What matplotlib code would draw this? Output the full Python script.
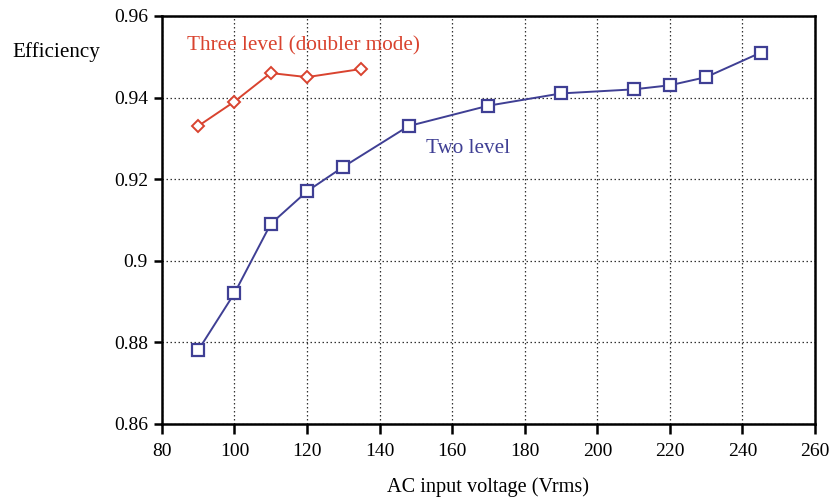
import matplotlib
matplotlib.use('Agg')
import matplotlib.pyplot as plt

two_v = [90, 100, 110, 120, 130, 148, 170, 190, 210, 220, 230, 245]
two_eff = [0.878, 0.892, 0.909, 0.917, 0.923, 0.933, 0.938, 0.941, 0.942, 0.943, 0.945, 0.951]
three_v = [90, 100, 110, 120, 135]
three_eff = [0.933, 0.939, 0.946, 0.945, 0.947]

xticks = [80, 100, 120, 140, 160, 180, 200, 220, 240, 260]
yticks = [0.86, 0.88, 0.9, 0.92, 0.94, 0.96]
ylabels = ['0.86', '0.88', '0.9', '0.92', '0.94', '0.96']

red = '#d9432f'
blue = '#3f3f94'

plt.rcParams['font.family'] = ['Liberation Serif', 'DejaVu Serif']

fig = plt.figure(figsize=(8.3, 4.98), dpi=100)
ax = fig.add_axes([0.195, 0.149, 0.787, 0.819])

ax.plot(two_v, two_eff, color=blue, lw=1.4, marker='s', ms=8.5,
        mfc='white', mec=blue, mew=1.6, zorder=3)
ax.plot(three_v, three_eff, color=red, lw=1.4, marker='D', ms=6.5,
        mfc='white', mec=red, mew=1.4, zorder=3)

ax.set_xlim(80, 260)
ax.set_ylim(0.86, 0.96)
ax.set_xticks(xticks)
ax.set_yticks(yticks)
ax.set_yticklabels(ylabels)
ax.tick_params(labelsize=14, width=1.8, direction='out')
ax.tick_params(axis='x', length=7.5, pad=6)
ax.tick_params(axis='y', length=6, pad=4)
ax.grid(True, color='#333333', linestyle=(0, (1.2, 2)), linewidth=0.9)
ax.set_axisbelow(True)
for s in ax.spines.values():
    s.set_linewidth(1.8)

ax.text(87, 0.9527, 'Three level (doubler mode)', color=red, fontsize=15.2, va='center')
ax.text(152.8, 0.9275, 'Two level', color=blue, fontsize=15.2, va='center')

fig.text(0.015, 0.895, 'Efficiency', fontsize=15.2, va='center')
fig.text(0.588, 0.022, 'AC input voltage (Vrms)', fontsize=14.6, ha='center', va='center')

fig.savefig('out.png', dpi=100)
